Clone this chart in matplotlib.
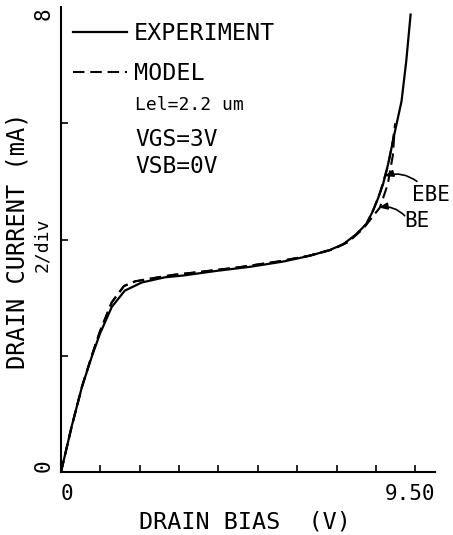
import matplotlib
matplotlib.use('Agg')
import matplotlib.pyplot as plt

plt.rcParams['font.family'] = ['DejaVu Sans Mono', 'DejaVu Sans']

# drain bias (V) vs drain current (mA)
exp_x = [0, 0.27, 0.53, 0.78, 0.99, 1.29, 1.62, 2.05, 2.64, 3.1, 3.95, 4.8,
         5.64, 6.32, 6.83, 7.17, 7.5, 7.76, 7.93, 8.06, 8.18, 8.31, 8.48, 8.65, 8.77, 8.88]
exp_y = [0, 0.78, 1.46, 1.98, 2.38, 2.84, 3.12, 3.26, 3.35, 3.38, 3.46, 3.53,
         3.62, 3.72, 3.82, 3.92, 4.09, 4.27, 4.5, 4.72, 4.95, 5.3, 5.85, 6.38, 7.07, 7.87]

ebe_x = [0, 0.27, 0.53, 0.78, 0.99, 1.29, 1.6, 1.88, 2.39, 2.84, 3.5, 4.5,
         5.5, 6.3, 6.9, 7.3, 7.5, 7.76, 7.95, 8.1, 8.3, 8.43, 8.49]
ebe_y = [0, 0.78, 1.46, 2.0, 2.42, 2.92, 3.2, 3.28, 3.34, 3.39, 3.44, 3.52,
         3.62, 3.72, 3.83, 3.96, 4.09, 4.27, 4.54, 4.8, 5.25, 5.7, 6.0]

be_x = [0, 0.27, 0.53, 0.78, 0.99, 1.29, 1.6, 1.88, 2.39, 2.84, 3.5, 4.5,
        5.5, 6.3, 6.9, 7.3, 7.67, 8.1, 8.3, 8.43, 8.47]
be_y = [0, 0.78, 1.46, 2.0, 2.42, 2.92, 3.2, 3.28, 3.34, 3.39, 3.44, 3.52,
        3.62, 3.72, 3.83, 3.96, 4.18, 4.55, 4.95, 5.45, 5.85]

x_ticks = [1, 2, 3, 4, 5, 6, 7, 8, 9]
y_ticks = [2, 4, 6]

fig = plt.figure(figsize=(4.53, 5.35), dpi=100)
ax = fig.add_axes([61/453, 1-472/535, 374/453, 465/535])

ax.plot(exp_x, exp_y, color='black', lw=1.6, label='EXPERIMENT')
ax.plot(ebe_x, ebe_y, color='black', lw=1.5, dashes=(5.5, 2.8), label='MODEL')
ax.plot(be_x, be_y, color='black', lw=1.5, dashes=(5.5, 2.8))

ax.set_xlim(0, 9.5)
ax.set_ylim(0, 8)
for s in ['top', 'right']:
    ax.spines[s].set_visible(False)
for s in ['left', 'bottom']:
    ax.spines[s].set_linewidth(1.5)

ax.set_xticks([0, 9.5], ['0', '9.50'])
ax.set_xticks(x_ticks, minor=True)
ax.set_yticks([0, 8], ['0', '8'])
ax.set_yticks(y_ticks, minor=True)
ax.tick_params(which='major', length=0, labelsize=15)
ax.tick_params(axis='x', which='major', pad=9)
ax.tick_params(axis='y', which='major', pad=5)
ax.tick_params(which='minor', direction='in', length=5, width=1.2)
xl = ax.get_xticklabels()
xl[0].set_ha('left')
xl[1].set_ha('right')
yl = ax.get_yticklabels()
for t in yl:
    t.set_rotation(90)
yl[0].set_va('bottom')
yl[1].set_va('top')

ax.set_xlabel('DRAIN BIAS  (V)', fontsize=16.8)
ax.xaxis.set_label_coords(0.493, -0.082)
ax.set_ylabel('DRAIN CURRENT (mA)', fontsize=17)
ax.yaxis.set_label_coords(-0.083, 0.497)
ax.text(-0.05, 0.488, '2/div', transform=ax.transAxes, rotation=90,
        ha='center', va='center', fontsize=13)

ax.legend(loc='upper left', bbox_to_anchor=(0.032, 0.968), frameon=False,
          fontsize=16.8, handlelength=2.3, handletextpad=0.3,
          labelspacing=0.75, borderaxespad=0, borderpad=0)

ax.text(0.198, 0.790, 'Lel=2.2 um', transform=ax.transAxes, fontsize=13, va='center')
ax.text(0.198, 0.714, 'VGS=3V', transform=ax.transAxes, fontsize=16.5, va='center')
ax.text(0.198, 0.658, 'VSB=0V', transform=ax.transAxes, fontsize=16.5, va='center')

arrow = dict(arrowstyle='-|>,head_length=0.5,head_width=0.2', color='black', lw=1.2,
             connectionstyle='arc3,rad=0.25', shrinkA=0, shrinkB=0)
ax.annotate('', xy=(8.22, 5.09), xytext=(9.04, 5.0), arrowprops=arrow)
ax.annotate('', xy=(8.07, 4.55), xytext=(8.73, 4.41), arrowprops=arrow)
ax.text(9.39, 4.77, 'EBE', fontsize=15, ha='center', va='center')
ax.text(9.04, 4.31, 'BE', fontsize=15, ha='center', va='center')

fig.savefig('out.png', dpi=100)
